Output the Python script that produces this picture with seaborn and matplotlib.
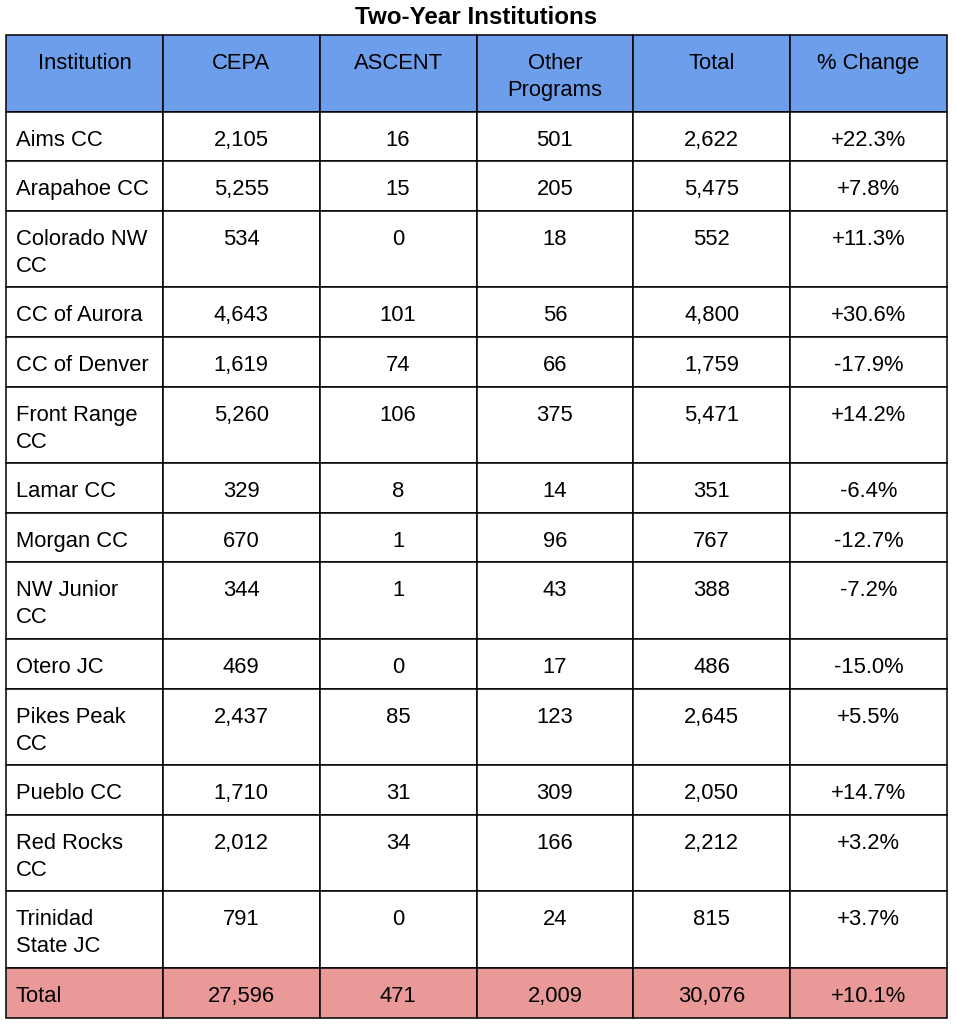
import matplotlib.pyplot as plt
import seaborn as sns

# Table data
title = "Two-Year Institutions"
headers = ["Institution", "CEPA", "ASCENT", "Other\nPrograms", "Total", "% Change"]
institutions = [
    "Aims CC",
    "Arapahoe CC",
    "Colorado NW\nCC",
    "CC of Aurora",
    "CC of Denver",
    "Front Range\nCC",
    "Lamar CC",
    "Morgan CC",
    "NW Junior\nCC",
    "Otero JC",
    "Pikes Peak\nCC",
    "Pueblo CC",
    "Red Rocks\nCC",
    "Trinidad\nState JC",
]
cepa = [2105, 5255, 534, 4643, 1619, 5260, 329, 670, 344, 469, 2437, 1710, 2012, 791]
ascent = [16, 15, 0, 101, 74, 106, 8, 1, 1, 0, 85, 31, 34, 0]
other = [501, 205, 18, 56, 66, 375, 14, 96, 43, 17, 123, 309, 166, 24]
total = [2622, 5475, 552, 4800, 1759, 5471, 351, 767, 388, 486, 2645, 2050, 2212, 815]
pct_change = [22.3, 7.8, 11.3, 30.6, -17.9, 14.2, -6.4, -12.7, -7.2, -15.0, 5.5, 14.7, 3.2, 3.7]
total_row = ["Total", 27596, 471, 2009, 30076, 10.1]

sns.set_theme(style="white")
plt.rcParams["font.family"] = ["Liberation Sans", "DejaVu Sans"]

HEADER_BG = "#6d9eeb"
TOTAL_BG = "#ea9999"
BODY_BG = "#ffffff"
FS = 15.8


def fmt_row(name, c, a, o, t, p):
    return [name, f"{c:,}", f"{a:,}", f"{o:,}", f"{t:,}", f"{p:+.1f}%"]


rows = [(headers, HEADER_BG, True)]
for vals in zip(institutions, cepa, ascent, other, total, pct_change):
    rows.append((fmt_row(*vals), BODY_BG, False))
rows.append((fmt_row(*total_row), TOTAL_BG, False))

fig = plt.figure(figsize=(9.56, 10.24), dpi=100)
ax = fig.add_axes([0, 0, 1, 1])
ax.set_xlim(0, 956)
ax.set_ylim(1024, 0)
ax.axis("off")

left, right, top = 6, 947, 35
ncol = len(headers)
col_w = (right - left) / ncol
col_x = [left + col_w * (i + 0.5) for i in range(ncol)]

y = top
for cells, bg, is_header in rows:
    nlines = max(c.count("\n") + 1 for c in cells)
    h = 22.6 + 27 * nlines
    ax.bar(col_x, [h] * ncol, width=col_w, bottom=y, color=bg,
           edgecolor="black", linewidth=1.1)
    for j, txt in enumerate(cells):
        if j == 0 and not is_header:
            ax.text(left + 10, y + 18, txt, ha="left", va="top", fontsize=FS,
                    linespacing=1.38, color="black")
        else:
            ax.text(col_x[j], y + 18, txt, ha="center", va="top", fontsize=FS,
                    linespacing=1.38, color="black", multialignment="center")
    y += h

ax.text((left + right) / 2, 17, title, ha="center", va="center",
        fontsize=17.4, fontweight="bold", color="black")

fig.savefig("out.png", dpi=100)
